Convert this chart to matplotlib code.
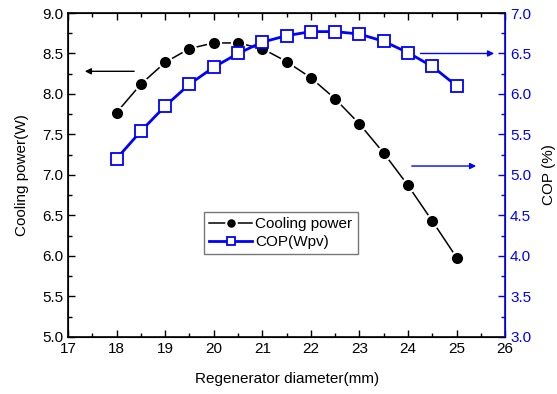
import matplotlib
matplotlib.use("Agg")
import matplotlib.pyplot as plt
from matplotlib.ticker import MultipleLocator

plt.rcParams['font.family'] = ['Liberation Sans', 'DejaVu Sans']
plt.rcParams['font.size'] = 11

diameter = [18, 18.5, 19, 19.5, 20, 20.5, 21, 21.5, 22, 22.5, 23, 23.5, 24, 24.5, 25]
cooling_power = [7.77, 8.12, 8.39, 8.56, 8.63, 8.63, 8.56, 8.40, 8.20, 7.94, 7.63, 7.27, 6.87, 6.43, 5.98]
cop = [5.20, 5.54, 5.85, 6.12, 6.33, 6.50, 6.64, 6.72, 6.77, 6.77, 6.74, 6.65, 6.51, 6.34, 6.10]

blue = '#0000ff'

fig = plt.figure(figsize=(5.57, 3.94), dpi=100)
ax = fig.add_axes([0.122, 0.145, 0.785, 0.822])
ax2 = ax.twinx()

l1, = ax.plot(diameter, cooling_power, '-', color='black', linewidth=1.1,
              marker='o', markersize=9.5, markerfacecolor='black',
              markeredgecolor='white', markeredgewidth=1.5, label='Cooling power')
l2, = ax2.plot(diameter, cop, '-', color=blue, linewidth=2,
               marker='s', markersize=8, markerfacecolor='white',
               markeredgecolor=blue, markeredgewidth=1.3, label='COP(Wpv)')

ax.set_xlim(17, 26)
ax.set_ylim(5, 9)
ax2.set_ylim(3, 7)
ax.xaxis.set_major_locator(MultipleLocator(1))
ax.xaxis.set_minor_locator(MultipleLocator(0.5))
ax.yaxis.set_major_locator(MultipleLocator(0.5))
ax.yaxis.set_minor_locator(MultipleLocator(0.25))
ax2.yaxis.set_major_locator(MultipleLocator(0.5))
ax2.yaxis.set_minor_locator(MultipleLocator(0.25))

ax.tick_params(which='both', direction='in', top=True, width=1)
ax.tick_params(which='major', length=5)
ax.tick_params(which='minor', length=3)
ax.tick_params(axis='x', pad=4)
ax2.tick_params(which='both', direction='in', colors=blue, width=1)
ax2.tick_params(which='major', length=5)
ax2.tick_params(which='minor', length=3)
ax2.spines['right'].set_color(blue)
ax2.spines['right'].set_linewidth(1.2)
for s in ['left', 'bottom', 'top']:
    ax.spines[s].set_linewidth(1.2)

ax.set_xlabel('Regenerator diameter(mm)', labelpad=11)
ax.set_ylabel('Cooling power(W)', labelpad=9)
ax2.set_ylabel('COP (%)', labelpad=8)

# arrows pointing to the axes
ax.annotate('', xy=(17.29, 8.28), xytext=(18.42, 8.28),
            arrowprops=dict(arrowstyle='-|>', color='black', lw=1, mutation_scale=9))
ax.annotate('', xy=(25.83, 8.50), xytext=(24.2, 8.50),
            arrowprops=dict(arrowstyle='-|>', color=blue, lw=1, mutation_scale=9))
ax.annotate('', xy=(25.46, 7.11), xytext=(24.02, 7.11),
            arrowprops=dict(arrowstyle='-|>', color=blue, lw=1, mutation_scale=9))

leg = ax.legend(handles=[l1, l2], loc='upper left', bbox_to_anchor=(0.311, 0.386),
                frameon=True, fancybox=False, edgecolor='#555555',
                handlelength=2.8, handletextpad=0.2, borderpad=0.35, labelspacing=0.25,
                markerscale=0.8, fontsize=11, borderaxespad=0)
leg.get_frame().set_linewidth(1)

fig.savefig('out.png', dpi=100)
